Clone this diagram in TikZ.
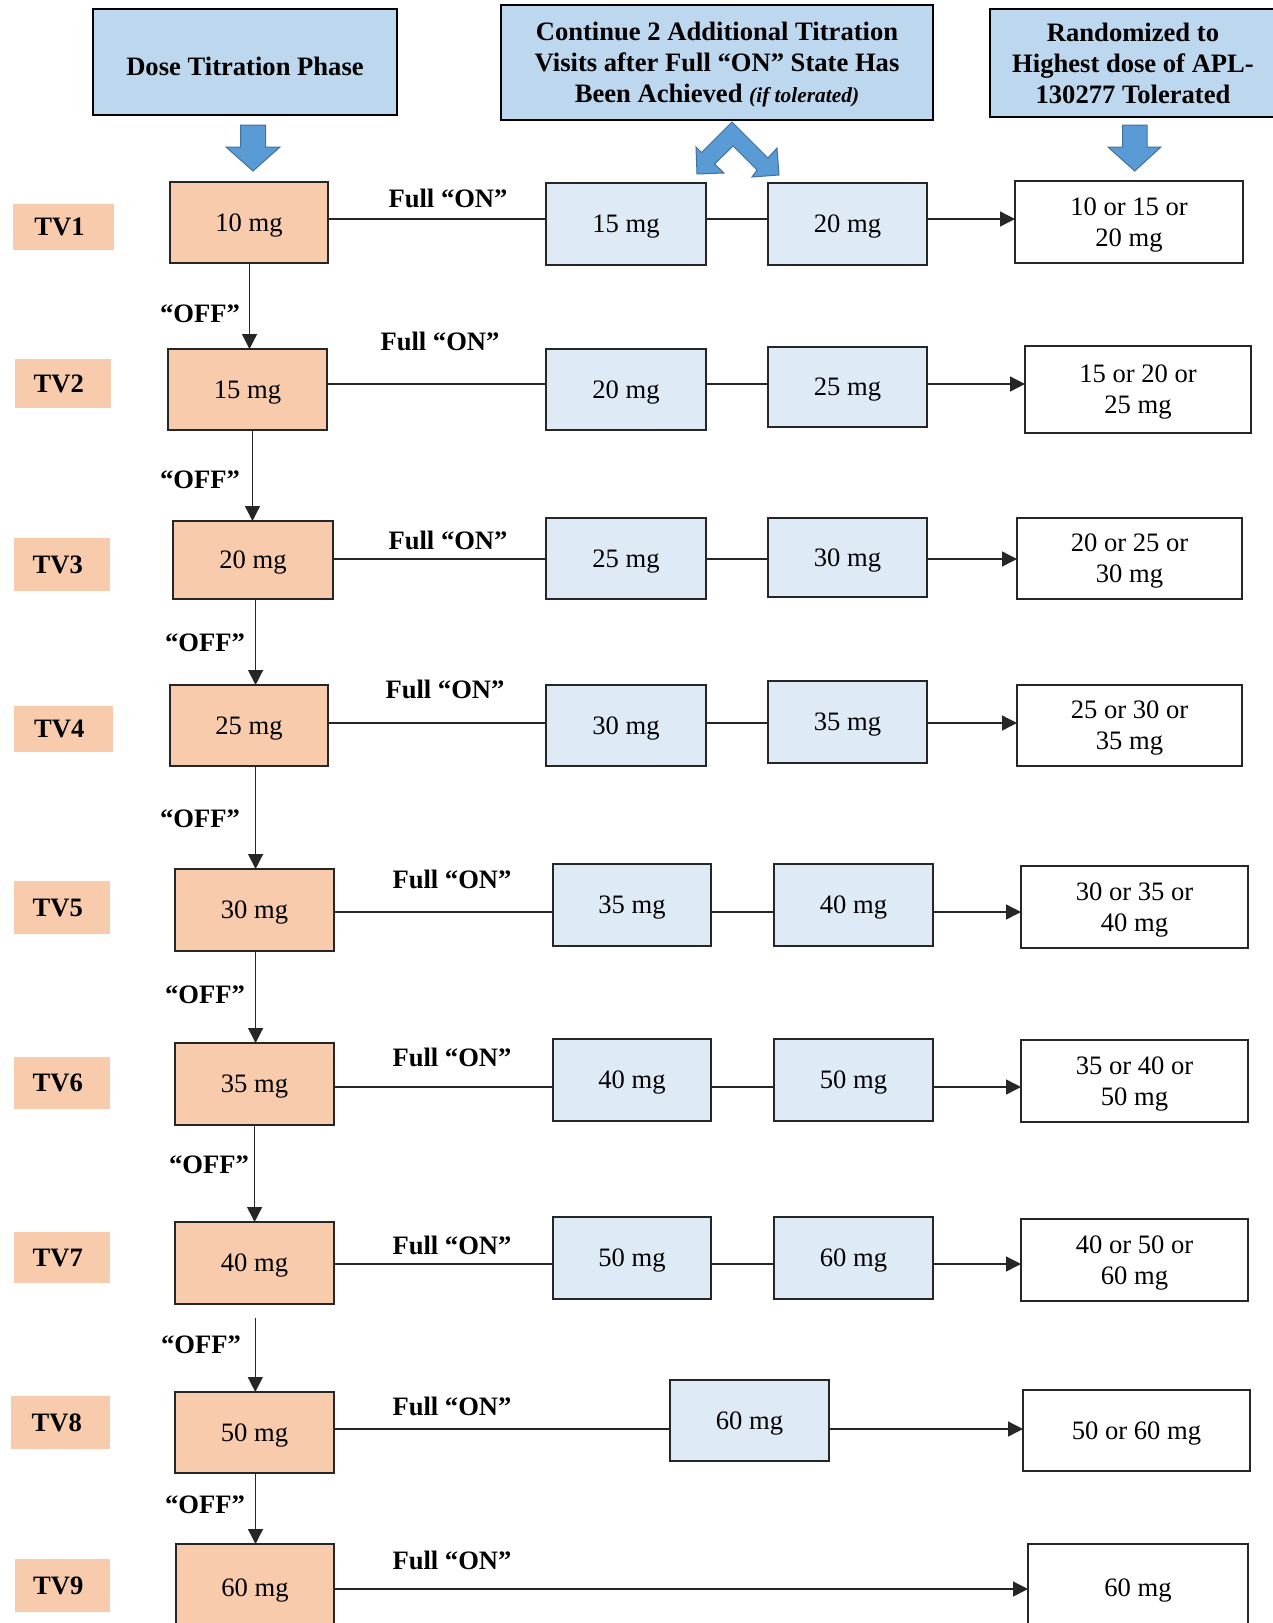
\documentclass[tikz,border=0pt]{standalone}
\usepackage{fontspec}
\setmainfont{Liberation Serif}
\usetikzlibrary{arrows.meta}
\definecolor{hdr}{HTML}{BDD7EE}
\definecolor{lb}{HTML}{DEEBF7}
\definecolor{org}{HTML}{F8CBAD}
\definecolor{arrblue}{HTML}{5B9BD5}
\definecolor{arrline}{HTML}{41719C}
\newcommand\bx[7]{\node[#6, minimum width={(#4-#2)*0.5pt}, minimum height={(#5-#3)*0.5pt}] (#1) at ({(#2+#4)/2},{(#3+#5)/2}) {#7};}
\tikzset{
  base/.style={inner sep=0pt, outer sep=0pt, align=center, text=black, text depth=0pt, font=\fontsize{13.3}{15.5}\selectfont},
  hdrbox/.style={base, draw=black, line width=1pt, fill=hdr, font=\fontsize{13.3}{15.5}\selectfont\bfseries},
  orgbox/.style={base, draw=black!85, line width=0.65pt, fill=org},
  lbbox/.style={base, draw=black!85, line width=0.65pt, fill=lb},
  resbox/.style={base, draw=black!85, line width=0.65pt, fill=white},
  tvbox/.style={base, fill=org, font=\fontsize{13.3}{15.5}\selectfont\bfseries},
  onlabel/.style={inner sep=0pt, font=\fontsize{13.3}{15.5}\selectfont\bfseries},
  conn/.style={line width=0.65pt, draw=black!85},
  arr/.style={conn, -{Triangle[length=7.5pt,width=7.5pt]}},
  bluearrow/.style={fill=arrblue, draw=arrline, line width=0.5pt, line join=miter}
}
\newcommand\tvt[1]{#1\hspace*{4pt}}
\begin{document}
\begin{tikzpicture}[x=0.5pt,y=-0.5pt]
\useasboundingbox (0,0) rectangle (1273,1623);
\fill[white] (0,0) rectangle (1273,1623);

% headers
\bx{h1}{93}{9}{397}{115}{hdrbox, text height=13pt}{Dose Titration Phase}
\bx{h2}{501}{5}{933}{120}{hdrbox}{Continue 2 Additional Titration\\Visits after Full “ON” State Has\\Been Achieved {\fontsize{10.7}{12}\selectfont\itshape (if tolerated)}}
\bx{h3}{990}{9}{1276}{117}{hdrbox}{Randomized to\\Highest dose of APL-\\130277 Tolerated}

% blue arrows
\path[bluearrow] (240.5,125) -- (265.5,125) -- (265.5,147) -- (280,147) -- (253,171) -- (226,147) -- (240.5,147) -- cycle;
\path[bluearrow] (1122.5,125) -- (1147,125) -- (1147,147) -- (1161,147) -- (1134.7,171) -- (1108,147) -- (1122.5,147) -- cycle;
\path[bluearrow] (732,122) -- (768,158) -- (777,148) -- (779,175) -- (752,177) -- (757,170) -- (733,146) -- (714.6,164) -- (724,173) -- (697,174) -- (696,147) -- (701.5,152.5) -- cycle;

% TV labels
\bx{tv1}{13}{204}{114}{250}{tvbox}{\tvt{TV1}}
\bx{tv2}{14.5}{359}{111}{408}{tvbox}{\tvt{TV2}}
\bx{tv3}{13.5}{538}{110}{591}{tvbox}{\tvt{TV3}}
\bx{tv4}{13.5}{706}{113}{752}{tvbox}{\tvt{TV4}}
\bx{tv5}{13.5}{881}{110}{934}{tvbox}{\tvt{TV5}}
\bx{tv6}{13.5}{1057}{110}{1109}{tvbox}{\tvt{TV6}}
\bx{tv7}{13.5}{1232}{110}{1283}{tvbox}{\tvt{TV7}}
\bx{tv8}{11.4}{1396}{110}{1449}{tvbox}{\tvt{TV8}}
\bx{tv9}{14.6}{1559}{110}{1612}{tvbox}{\tvt{TV9}}

% row 1
\bx{b1a}{170}{182}{328}{263}{orgbox}{10 mg}
\bx{b1b}{546}{183}{706}{265}{lbbox}{15 mg}
\bx{b1c}{768}{183}{927}{265}{lbbox}{20 mg}
\bx{r1}{1015}{181}{1243}{263}{resbox}{10 or 15 or\\20 mg}
% row 2
\bx{b2a}{168}{349}{327}{430}{orgbox}{15 mg}
\bx{b2b}{546}{349}{706}{430}{lbbox}{20 mg}
\bx{b2c}{768}{347}{927}{427}{lbbox}{25 mg}
\bx{r2}{1025}{346}{1251}{433}{resbox}{15 or 20 or\\25 mg}
% row 3
\bx{b3a}{173}{521}{333}{599}{orgbox}{20 mg}
\bx{b3b}{546}{518}{706}{599}{lbbox}{25 mg}
\bx{b3c}{768}{518}{927}{597}{lbbox}{30 mg}
\bx{r3}{1017}{518}{1242}{599}{resbox}{20 or 25 or\\30 mg}
% row 4
\bx{b4a}{170}{685}{328}{766}{orgbox}{25 mg}
\bx{b4b}{546}{685}{706}{766}{lbbox}{30 mg}
\bx{b4c}{768}{681}{927}{763}{lbbox}{35 mg}
\bx{r4}{1017}{685}{1242}{766}{resbox}{25 or 30 or\\35 mg}
% row 5
\bx{b5a}{175}{869}{334}{951}{orgbox}{30 mg}
\bx{b5b}{553}{864}{711}{946}{lbbox}{35 mg}
\bx{b5c}{774}{864}{933}{946}{lbbox}{40 mg}
\bx{r5}{1021}{866}{1248}{948}{resbox}{30 or 35 or\\40 mg}
% row 6
\bx{b6a}{175}{1043}{334}{1125}{orgbox}{35 mg}
\bx{b6b}{553}{1039}{711}{1121}{lbbox}{40 mg}
\bx{b6c}{774}{1039}{933}{1121}{lbbox}{50 mg}
\bx{r6}{1021}{1040}{1248}{1122}{resbox}{35 or 40 or\\50 mg}
% row 7
\bx{b7a}{175}{1222}{334}{1304}{orgbox}{40 mg}
\bx{b7b}{553}{1217}{711}{1299}{lbbox}{50 mg}
\bx{b7c}{774}{1217}{933}{1299}{lbbox}{60 mg}
\bx{r7}{1021}{1219}{1248}{1301}{resbox}{40 or 50 or\\60 mg}
% row 8
\bx{b8a}{175}{1392}{334}{1473}{orgbox}{50 mg}
\bx{b8c}{670}{1380}{829}{1461}{lbbox}{60 mg}
\bx{r8}{1023}{1390}{1250}{1471}{resbox}{50 or 60 mg}
% row 9
\bx{b9a}{176}{1544}{334}{1632}{orgbox}{60 mg}
\bx{r9}{1028}{1544}{1248}{1632}{resbox}{60 mg}

% row line levels
\coordinate (L1) at (0,219);
\coordinate (L2) at (0,384);
\coordinate (L3) at (0,559);
\coordinate (L4) at (0,723);
\coordinate (L5) at (0,912);
\coordinate (L6) at (0,1087);
\coordinate (L7) at (0,1264);
\coordinate (L8) at (0,1429);
\coordinate (L9) at (0,1589);

% horizontal connectors
\foreach \r in {1,...,7}{
  \draw[conn] (b\r a.east |- L\r) -- (b\r b.west |- L\r);
  \draw[conn] (b\r b.east |- L\r) -- (b\r c.west |- L\r);
  \draw[arr] (b\r c.east |- L\r) -- (r\r.west |- L\r);
}
\draw[conn] (b8a.east |- L8) -- (b8c.west |- L8);
\draw[arr] (b8c.east |- L8) -- (r8.west |- L8);
\draw[arr] (b9a.east |- L9) -- (r9.west |- L9);

% Full ON labels
\node[onlabel] (on1) at (448,198) {Full “ON”};
\node[onlabel] (on2) at (440,341) {Full “ON”};
\node[onlabel] (on3) at (448,540) {Full “ON”};
\node[onlabel] (on4) at (445,689) {Full “ON”};
\node[onlabel] (on5) at (452,879) {Full “ON”};
\node[onlabel] (on6) at (452,1057) {Full “ON”};
\node[onlabel] (on7) at (452,1245) {Full “ON”};
\node[onlabel] (on8) at (452,1406) {Full “ON”};
\node[onlabel] (on9) at (452,1560) {Full “ON”};

% OFF arrows
\draw[arr] (b1a.south -| 249.5,0) -- (b2a.north -| 249.5,0);
\draw[arr] (b2a.south -| 252.5,0) -- (b3a.north -| 252.5,0);
\draw[arr] (b3a.south -| 255.6,0) -- (b4a.north -| 255.6,0);
\draw[arr] (b4a.south -| 255.6,0) -- (b5a.north -| 255.6,0);
\draw[arr] (b5a.south -| 255.6,0) -- (b6a.north -| 255.6,0);
\draw[arr] (b6a.south -| 254.6,0) -- (b7a.north -| 254.6,0);
\draw[arr, shorten <=7pt] (b7a.south -| 255.3,0) -- (b8a.north -| 255.3,0);
\draw[arr] (b8a.south -| 255.5,0) -- (b9a.north -| 255.5,0);

% OFF labels
\node[onlabel] (off1) at (200,314) {“OFF”};
\node[onlabel] (off2) at (200,480) {“OFF”};
\node[onlabel] (off3) at (205,643) {“OFF”};
\node[onlabel] (off4) at (200,819) {“OFF”};
\node[onlabel] (off5) at (205,995) {“OFF”};
\node[onlabel] (off6) at (209,1165) {“OFF”};
\node[onlabel] (off7) at (201,1345) {“OFF”};
\node[onlabel] (off8) at (205,1505) {“OFF”};
\end{tikzpicture}
\end{document}
